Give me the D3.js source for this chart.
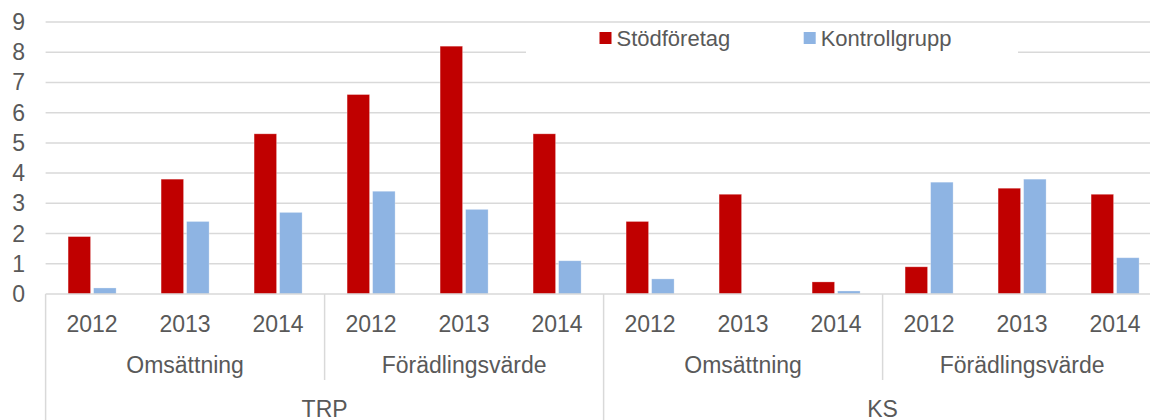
<!DOCTYPE html>
<html><head><meta charset="utf-8">
<script src="https://cdn.jsdelivr.net/npm/d3@7"></script>
<style>body{margin:0;background:#fff}svg{display:block}text{font-family:"Liberation Sans",Arial,sans-serif;fill:#595959}</style>
</head><body><svg id="c" width="1150" height="420"></svg>
<script>
const regions = ["TRP", "KS"];
const measures = ["Omsättning", "Förädlingsvärde"];
const years = ["2012", "2013", "2014"];
const seriesNames = ["Stödföretag", "Kontrollgrupp"];
const stodforetag = [1.9, 3.8, 5.3, 6.6, 8.2, 5.3, 2.4, 3.3, 0.4, 0.9, 3.5, 3.3];
const kontrollgrupp = [0.2, 2.4, 2.7, 3.4, 2.8, 1.1, 0.5, 0, 0.1, 3.7, 3.8, 1.2];
const yTicks = [0,1,2,3,4,5,6,7,8,9];
const colors = ["#C00000", "#8EB4E3"];

(function(){
const cats = [];
regions.forEach(r => measures.forEach(m => years.forEach(y => cats.push({r, m, y, key: r+"|"+m+"|"+y}))));

const svg = d3.select("#c");
const pLeft = 45.6, pRight = 1161.6, pTop = 22, base = 294;
const x = d3.scaleBand().domain(cats.map(c => c.key)).range([pLeft, pRight]).padding(0);
const y = d3.scaleLinear().domain([0, 9]).range([base, pTop]);
const bw = x.bandwidth();
const xs = d3.scaleBand().domain(seriesNames).range([bw/2 - 24, bw/2 + 24]).paddingInner(0.12);
const grid = "#d9d9d9";
const fs = 23;

svg.append("g").selectAll("line").data(yTicks.filter(t => t > 0)).join("line")
  .attr("x1", pLeft).attr("x2", pRight).attr("y1", d => y(d)).attr("y2", d => y(d))
  .attr("stroke", grid).attr("stroke-width", 1.5);

svg.append("g").selectAll("text").data(yTicks).join("text")
  .attr("x", 25).attr("y", d => y(d)).attr("dy", "0.35em").attr("text-anchor", "end")
  .attr("font-size", fs).text(d => d);

const data = [stodforetag, kontrollgrupp];
data.forEach((vals, si) => {
  svg.append("g").selectAll("rect").data(cats).join("rect")
    .attr("x", (d) => x(d.key) + xs(seriesNames[si]))
    .attr("width", xs.bandwidth())
    .attr("y", (d, i) => y(vals[i]))
    .attr("height", (d, i) => base - y(vals[i]))
    .attr("fill", colors[si])
    .attr("stroke", "#fff").attr("stroke-opacity", 0.35).attr("stroke-width", 0.8);
});

svg.append("line").attr("x1", pLeft).attr("x2", pRight).attr("y1", base).attr("y2", base)
  .attr("stroke", grid).attr("stroke-width", 1.5);

svg.append("g").selectAll("text").data(cats).join("text")
  .attr("x", d => x(d.key) + bw/2).attr("y", 332).attr("text-anchor", "middle")
  .attr("font-size", fs).text(d => d.y);

const groups = [];
regions.forEach(r => measures.forEach(m => groups.push({r, m})));
groups.forEach((g) => {
  const x0 = x(g.r+"|"+g.m+"|"+years[0]);
  const x1 = x(g.r+"|"+g.m+"|"+years[2]) + bw;
  svg.append("text").attr("x", (x0+x1)/2).attr("y", 373).attr("text-anchor", "middle")
    .attr("font-size", fs).text(g.m);
});
const divs = [];
cats.forEach((c, i) => { if (i % 3 === 0) divs.push({xv: x(c.key), full: i % 6 === 0}); });
svg.append("g").selectAll("line").data(divs).join("line")
  .attr("x1", d => d.xv).attr("x2", d => d.xv).attr("y1", base)
  .attr("y2", d => d.full ? 420 : 380).attr("stroke", grid).attr("stroke-width", 1.5);

regions.forEach(r => {
  const x0 = x(r+"|"+measures[0]+"|"+years[0]);
  const x1 = x(r+"|"+measures[1]+"|"+years[2]) + bw;
  svg.append("text").attr("x", (x0+x1)/2).attr("y", 416.5).attr("text-anchor", "middle")
    .attr("font-size", fs).text(r);
});

const lg = svg.append("g");
lg.append("rect").attr("x", 526).attr("y", 23).attr("width", 492).attr("height", 31).attr("fill", "#fff");
const legX = [599.5, 803.7];
seriesNames.forEach((s, i) => {
  lg.append("rect").attr("x", legX[i]).attr("y", 32).attr("width", 12).attr("height", 12).attr("fill", colors[i]);
  lg.append("text").attr("x", legX[i] + 17).attr("y", 46).attr("font-size", 22).text(s);
});
})();
</script></body></html>
